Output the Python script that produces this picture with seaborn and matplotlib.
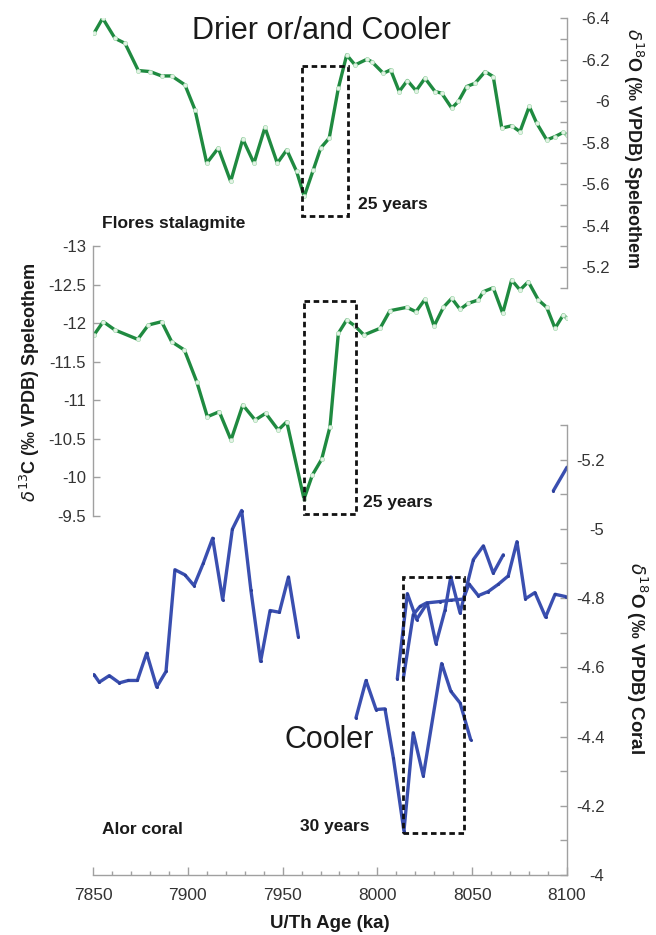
import numpy as np
import pandas as pd
import matplotlib
matplotlib.use("Agg")
import matplotlib.pyplot as plt
import seaborn as sns
from matplotlib.patches import Rectangle

# ---------------- data ----------------
# Flores stalagmite d18O (top panel)
spel_o_age = [7850.5, 7855.1, 7861.6, 7866.9, 7873.9, 7880.1, 7886.2, 7891.5, 7898.5, 7903.8,
              7910.0, 7916.1, 7922.6, 7929.0, 7934.9, 7940.7, 7947.2, 7952.2, 7957.4, 7961.4,
              7966.2, 7970.1, 7974.6, 7979.4, 7983.8, 7988.2, 7994.4, 7997.0, 8003.1, 8007.0,
              8011.5, 8015.8, 8020.4, 8025.1, 8030.4, 8033.9, 8039.2, 8042.7, 8047.1, 8051.5,
              8056.8, 8061.1, 8065.6, 8070.8, 8075.2, 8080.1, 8084.0, 8089.3, 8093.7, 8098.0,
              8100.0]
spel_o_val = [-6.326, -6.399, -6.302, -6.278, -6.147, -6.142, -6.121, -6.121, -6.078, -5.958,
              -5.701, -5.774, -5.613, -5.817, -5.701, -5.873, -5.701, -5.765, -5.661, -5.541,
              -5.669, -5.774, -5.822, -6.062, -6.222, -6.174, -6.201, -6.190, -6.134, -6.150,
              -6.046, -6.099, -6.050, -6.110, -6.046, -6.038, -5.966, -5.998, -6.070, -6.086,
              -6.142, -6.118, -5.870, -5.881, -5.853, -5.974, -5.894, -5.813, -5.829, -5.849,
              -5.837]

# Flores stalagmite d13C (middle panel)
spel_c_age = [7850.5, 7855.4, 7861.6, 7873.6, 7879.2, 7886.2, 7891.5, 7898.2, 7904.7, 7910.3,
              7916.6, 7922.8, 7929.0, 7935.5, 7941.1, 7947.7, 7952.2, 7961.3, 7965.7, 7970.6,
              7975.0, 7979.4, 7983.8, 7988.2, 7992.9, 8001.4, 8006.6, 8015.5, 8020.4, 8025.1,
              8029.9, 8034.8, 8039.2, 8043.6, 8047.9, 8053.2, 8055.9, 8061.1, 8066.1, 8070.8,
              8075.2, 8079.6, 8084.9, 8089.3, 8093.7, 8098.0, 8100.0]
spel_c_val = [-11.846, -12.019, -11.911, -11.790, -11.976, -12.019, -11.759, -11.652, -11.241, -10.787,
              -10.852, -10.485, -10.939, -10.744, -10.831, -10.615, -10.722, -9.720, -10.031, -10.235,
              -10.657, -11.868, -12.041, -11.963, -11.846, -11.933, -12.161, -12.205, -12.148, -12.309,
              -11.963, -12.205, -12.322, -12.179, -12.257, -12.300, -12.408, -12.459, -12.128, -12.559,
              -12.430, -12.537, -12.300, -12.205, -11.933, -12.106, -12.063]

# Alor coral d18O (bottom panel), several records
coral_a_age = [7850.5, 7853.3, 7858.6, 7863.9, 7868.6, 7873.4, 7878.3, 7883.6, 7888.5, 7893.2,
               7898.5, 7903.3, 7908.2, 7913.1, 7918.4, 7923.5, 7928.4, 7933.3, 7938.4, 7943.4,
               7948.3, 7953.1, 7958.3]
coral_a_val = [-4.579, -4.557, -4.576, -4.555, -4.562, -4.562, -4.641, -4.543, -4.588, -4.882,
               -4.867, -4.836, -4.901, -4.973, -4.795, -4.999, -5.053, -4.822, -4.617, -4.764,
               -4.759, -4.861, -4.688]
coral_b_age = [7988.7, 7994.0, 7999.3, 8004.0, 8008.4, 8014.0, 8018.9, 8024.2, 8033.9, 8038.7,
               8043.6, 8049.2]
coral_b_val = [-4.454, -4.562, -4.478, -4.480, -4.339, -4.127, -4.411, -4.286, -4.611, -4.531,
               -4.497, -4.391]
coral_c_age = [8010.5, 8015.8, 8020.7, 8026.3, 8030.9, 8035.7, 8038.7, 8043.6, 8050.6, 8055.9,
               8061.1, 8066.4]
coral_c_val = [-4.567, -4.813, -4.738, -4.786, -4.668, -4.766, -4.861, -4.757, -4.911, -4.951,
               -4.872, -4.925]
coral_d_age = [8013.7, 8018.9, 8022.5, 8025.9, 8033.0, 8038.8, 8045.3, 8048.3, 8053.2, 8058.5,
               8063.8, 8069.0, 8073.6, 8078.1, 8083.1, 8088.7, 8093.7, 8099.5]
coral_d_val = [-4.569, -4.752, -4.776, -4.786, -4.790, -4.794, -4.797, -4.841, -4.807, -4.819,
               -4.840, -4.864, -4.963, -4.798, -4.816, -4.745, -4.811, -4.804]
coral_e_age = [8092.8, 8100.0]
coral_e_val = [-5.110, -5.178]

x_ticks = [7850, 7900, 7950, 8000, 8050, 8100]
top_ticks = [-6.4, -6.2, -6.0, -5.8, -5.6, -5.4, -5.2]
top_labels = ["-6.4", "-6.2", "-6", "-5.8", "-5.6", "-5.4", "-5.2"]
mid_ticks = [-13, -12.5, -12, -11.5, -11, -10.5, -10, -9.5]
mid_labels = ["-13", "-12.5", "-12", "-11.5", "-11", "-10.5", "-10", "-9.5"]
bot_ticks = [-5.2, -5.0, -4.8, -4.6, -4.4, -4.2, -4.0]
bot_labels = ["-5.2", "-5", "-4.8", "-4.6", "-4.4", "-4.2", "-4"]

# ---------------- style ----------------
sns.set_theme(style="white")
plt.rcParams["font.family"] = ["Liberation Sans", "DejaVu Sans"]
plt.rcParams["axes.unicode_minus"] = False
plt.rcParams["mathtext.fontset"] = "dejavusans"

GREEN = "#1f8a40"
BLUE = "#3a4fb0"
GRAY = "#a0a0a0"
TICKTXT = "#333333"

W, H = 656, 935
fig = plt.figure(figsize=(W / 100, H / 100), dpi=100)


def fx(px):
    return px / W


def fy(py):
    return 1 - py / H


x0, x1 = 93, 567
left, width = fx(x0), (x1 - x0) / W
ax_top = fig.add_axes([left, fy(288), width, (288 - 18) / H])
ax_mid = fig.add_axes([left, fy(516), width, (516 - 246) / H])
ax_bot = fig.add_axes([left, fy(875), width, (875 - 425) / H])

for ax in (ax_top, ax_mid, ax_bot):
    ax.set_facecolor("none")
    ax.set_xlim(7850, 8100)
    for s in ax.spines.values():
        s.set_visible(False)
        s.set_color(GRAY)
        s.set_linewidth(1.0)
    ax.grid(False)

green_kw = dict(color=GREEN, lw=2.4, marker="o", markersize=3.0,
                markerfacecolor="#e4f3e6", markeredgecolor="#a8dab2", markeredgewidth=0.5)

# ---- top panel ----
sns.lineplot(x=spel_o_age, y=spel_o_val, ax=ax_top, sort=False, estimator=None, **green_kw)
ax_top.set_ylim(-5.1, -6.4)
ax_top.spines["right"].set_visible(True)
ax_top.set_yticks(top_ticks)
ax_top.set_yticklabels(top_labels)
ax_top.set_yticks(np.arange(-6.4, -5.05, 0.1), minor=True)
ax_top.set_xticks([])
ax_top.yaxis.tick_right()
ax_top.tick_params(axis="y", which="both", direction="in", length=5, width=1, color=GRAY,
                   right=True, left=False, labelright=True, labelleft=False,
                   labelsize=12, labelcolor=TICKTXT, pad=31)
for lab in ax_top.get_yticklabels():
    lab.set_horizontalalignment("right")
ax_top.add_patch(Rectangle((7960.2, -6.17), 24.3, 0.722, fill=False, ec="#111111",
                           lw=2, ls=(0, (2, 1.3)), zorder=5))

# ---- middle panel ----
sns.lineplot(x=spel_c_age, y=spel_c_val, ax=ax_mid, sort=False, estimator=None, **green_kw)
ax_mid.set_ylim(-9.5, -13)
ax_mid.spines["left"].set_visible(True)
ax_mid.set_yticks(mid_ticks)
ax_mid.set_yticklabels(mid_labels)
ax_mid.set_xticks([])
ax_mid.tick_params(axis="y", which="both", direction="in", length=5, width=1, color=GRAY,
                   left=True, right=False, labelsize=12, labelcolor=TICKTXT, pad=5)
ax_mid.add_patch(Rectangle((7961.3, -12.29), 27.4, 2.76, fill=False, ec="#111111",
                           lw=2, ls=(0, (2, 1.3)), zorder=5))

# ---- bottom panel ----
coral = pd.concat([
    pd.DataFrame({"age": coral_a_age, "d18O": coral_a_val, "rec": "a"}),
    pd.DataFrame({"age": coral_b_age, "d18O": coral_b_val, "rec": "b"}),
    pd.DataFrame({"age": coral_c_age, "d18O": coral_c_val, "rec": "c"}),
    pd.DataFrame({"age": coral_d_age, "d18O": coral_d_val, "rec": "d"}),
    pd.DataFrame({"age": coral_e_age, "d18O": coral_e_val, "rec": "e"}),
])
sns.lineplot(data=coral, x="age", y="d18O", units="rec", estimator=None, sort=False, ax=ax_bot,
             color=BLUE, lw=2.4, marker="o", markersize=2.2, markeredgewidth=0,
             markerfacecolor="#2c3f9a")
ax_bot.set_ylim(-4.0, -5.3)
ax_bot.spines["right"].set_visible(True)
ax_bot.spines["bottom"].set_visible(True)
ax_bot.set_yticks(bot_ticks)
ax_bot.set_yticklabels(bot_labels)
ax_bot.set_yticks(np.arange(-5.3, -3.95, 0.1), minor=True)
ax_bot.yaxis.tick_right()
ax_bot.tick_params(axis="y", which="both", direction="in", length=5, width=1, color=GRAY,
                   right=True, left=False, labelright=True, labelleft=False,
                   labelsize=12, labelcolor=TICKTXT, pad=27)
for lab in ax_bot.get_yticklabels():
    lab.set_horizontalalignment("right")
ax_bot.set_xticks(x_ticks)
ax_bot.set_xticklabels([str(t) for t in x_ticks])
ax_bot.set_xticks(np.arange(7850, 8101, 10), minor=True)
ax_bot.tick_params(axis="x", which="major", direction="in", length=6, width=1, color=GRAY,
                   bottom=True, labelsize=12.5, labelcolor=TICKTXT, pad=9)
ax_bot.tick_params(axis="x", which="minor", direction="in", length=3, width=1, color=GRAY,
                   bottom=True)
ax_bot.set_xlabel("")
ax_bot.set_ylabel("")
ax_bot.add_patch(Rectangle((8013.3, -4.12), 32.4, -0.742, fill=False, ec="#111111",
                           lw=2, ls=(0, (2, 1.3)), zorder=5))
for ax in (ax_top, ax_mid):
    ax.set_xlabel("")
    ax.set_ylabel("")

# ---------------- texts ----------------
fig.text(fx(321), fy(31), "Drier or/and Cooler", fontsize=22, color="#1a1a1a",
         ha="center", va="center")
fig.text(fx(102), fy(224), "Flores stalagmite", fontsize=12.5, fontweight="bold",
         color="#1a1a1a", ha="left", va="center")
fig.text(fx(358), fy(204), "25 years", fontsize=12.5, fontweight="bold",
         color="#1a1a1a", ha="left", va="center")
fig.text(fx(363), fy(503), "25 years", fontsize=12.5, fontweight="bold",
         color="#1a1a1a", ha="left", va="center")
fig.text(fx(329), fy(740), "Cooler", fontsize=22, color="#1a1a1a", ha="center", va="center")
fig.text(fx(102), fy(830), "Alor coral", fontsize=12.5, fontweight="bold",
         color="#1a1a1a", ha="left", va="center")
fig.text(fx(300), fy(826), "30 years", fontsize=12.5, fontweight="bold",
         color="#1a1a1a", ha="left", va="center")
fig.text(fx(330), fy(923), "U/Th Age (ka)", fontsize=13.5, fontweight="bold",
         color="#1a1a1a", ha="center", va="center")

fig.text(fx(633), fy(148), r"$\delta^{18}$O (‰ VPDB) Speleothem", fontsize=13,
         fontweight="bold", rotation=270, color="#1a1a1a", ha="center", va="center")
fig.text(fx(30), fy(382), r"$\delta^{13}$C (‰ VPDB) Speleothem", fontsize=13,
         fontweight="bold", rotation=90, color="#1a1a1a", ha="center", va="center")
fig.text(fx(637), fy(658), r"$\delta^{18}$O (‰ VPDB) Coral", fontsize=13.5,
         fontweight="bold", rotation=270, color="#1a1a1a", ha="center", va="center")

fig.savefig("out.png", dpi=100)
